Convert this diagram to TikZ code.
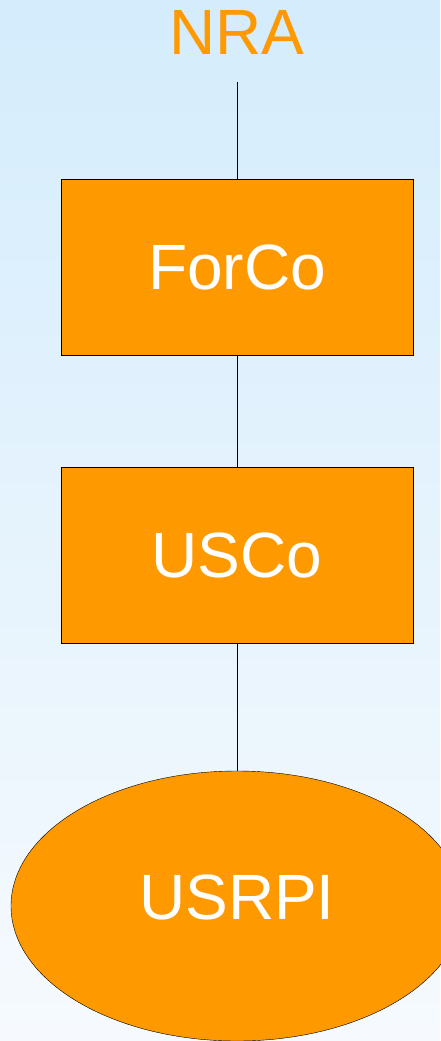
\documentclass[tikz,border=0pt]{standalone}
\usepackage{fontspec}
\setmainfont{Liberation Sans}
\usepackage{xcolor}
\definecolor{Tangerine}{HTML}{FF9900}
\definecolor{Pale Sky}{HTML}{D4ECFC}
\definecolor{Mist}{HTML}{F6FAFE}
\colorlet{cOrange}{Tangerine}
\colorlet{cTop}{Pale Sky}
\colorlet{cBottom}{Mist}
\usepackage{tikz}
\usetikzlibrary{positioning, shapes.geometric}
\tikzset{
	line width = .6pt,
	font = \fontsize{64}{64}\selectfont,
	unit/.style={
		draw,
		fill=cOrange,
		text=white,
		minimum width=352pt,
		minimum height=176pt,
		inner sep=0pt,
		outer sep=0pt
	},
	body/.style={
		draw,
		ellipse,
		fill=cOrange,
		text=white,
		text depth=18pt,
		minimum width=452pt,
		minimum height=270pt,
		inner sep=0pt,
		outer sep=0pt
	}
}

\begin{document}
\begin{tikzpicture}[x=1pt, y=-1pt]
	\shade[top color=cTop, bottom color=cBottom] (0,0) rectangle (440,1041);
	\useasboundingbox (0,0) rectangle (440,1041);

	\node (nra) [text=cOrange, anchor=base, inner xsep=0pt, inner ysep=27pt] at (237,55) {NRA};
	\node (forco) [unit] at (237,267) {ForCo};
	\node (usco) [unit, below=112pt of forco] {USCo};
	\node (usrpi) [body, below=128pt of usco] {USRPI};

	\draw (nra.south) -- (forco)
		(forco) -- (usco)
		(usco) -- (usrpi);
\end{tikzpicture}
\end{document}
